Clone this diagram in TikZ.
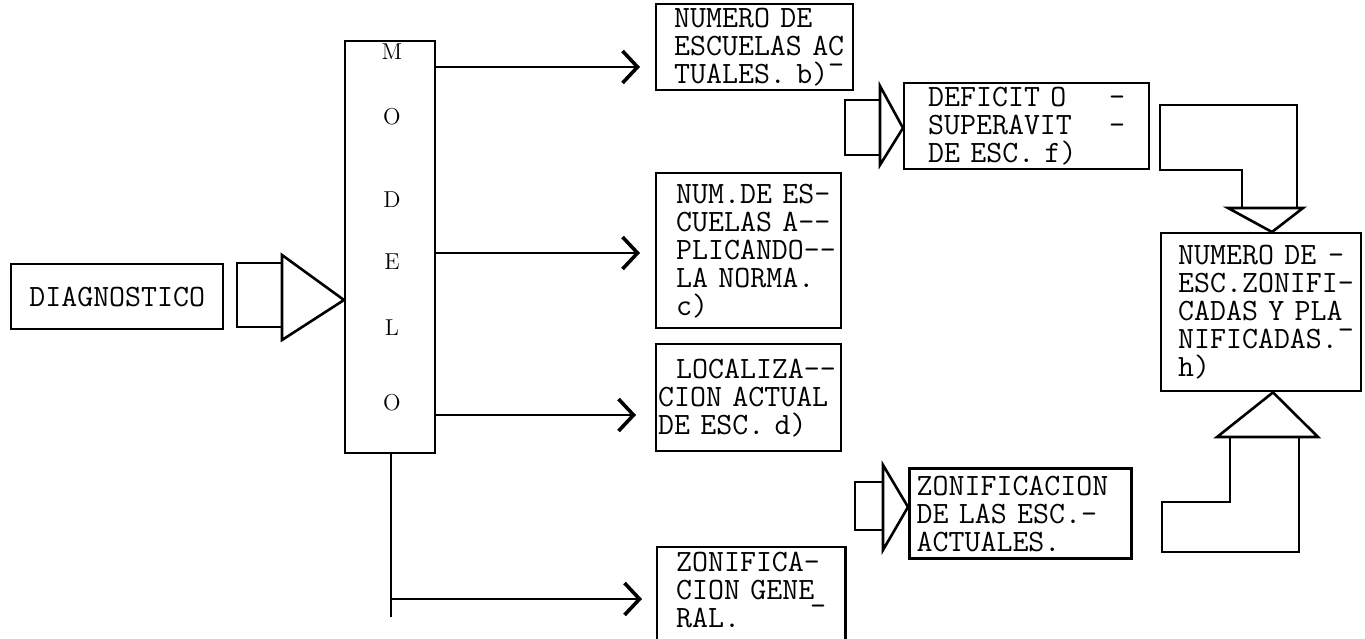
\documentclass[tikz,border=0pt]{standalone}
\usepackage{tikz}
\usetikzlibrary{arrows.meta}

\newcommand{\maq}{\fontsize{15.5}{14}\selectfont\ttfamily}

\begin{document}
\begin{tikzpicture}[x=0.5pt, y=-0.5pt, % one unit = one pixel of the scan, y down
    caja/.style={draw, line width=1.2pt, anchor=north west, align=left, font=\maq, inner ysep=2pt},
    letra/.style={font=\fontsize{11.5}{13}\selectfont\rmfamily, inner sep=0pt},
    linea/.style={line width=1.2pt},
    flecha/.style={line width=1.2pt, -{Straight Barb[length=7.5pt, width=16pt, line width=1.8pt]}},
    bloque/.style={line width=1.3pt, line join=miter}]
            % 1. Page frame
            \useasboundingbox (0,0) rectangle (1365,638);

            % 2. Input box and the model column
            \node[caja, minimum width=106pt, minimum height=32.5pt, align=center] (diag) at (10,263) {DIAGNOSTICO};
            \node[draw, line width=1.2pt, anchor=north west, minimum width=45pt, minimum height=206pt] (modelo) at (344,40) {};
            \foreach \l/\y [count=\i] in {M/52, O/117, D/200, E/262, L/328, O/403}
                \node[letra] (l\i) at (392,\y) {\l};

            % 3. Result boxes
            \node[caja, inner xsep=9pt, text width=80.5pt, minimum height=40pt] (numb) at (655,3)
                {NUMERO~DE\\ESCUELAS~AC\\TUALES.~b)\nobreak\hfill\raisebox{0.7ex}{-}};
            \node[caja, inner xsep=12pt, text width=98.5pt, minimum height=38pt] (defi) at (903,82)
                {DEFICIT~O\hfill-\\SUPERAVIT\hfill-\\DE~ESC.~f)};
            \node[caja, inner xsep=10pt, text width=72.5pt, minimum height=77.5pt] (numc) at (655,172)
                {NUM.DE~ES-\\CUELAS~A--\\PLICANDO--\\LA~NORMA.\\c)};
            \node[caja, inner xsep=1pt, text width=90.5pt, minimum height=53.5pt] (numd) at (655,343)
                {\hspace*{9pt}LOCALIZA--\\CION~ACTUAL\\DE~ESC.~d)};
            \node[caja, draw=none, inner xsep=9pt, text width=75pt] (zong) at (657,547)
                {ZONIFICA-\\CION~GENE\\RAL.\nobreak\hfill\raisebox{0.9ex}{-}};
            \draw[line width=1.2pt] (zong.north west) rectangle (zong.north east |- 0,660);
            \node[caja, line width=1.7pt, inner xsep=3.5pt, text width=104pt, minimum height=45pt] (zonac) at (908,467)
                {ZONIFICACION\\DE~LAS~ESC.-\\ACTUALES.};
            \node[caja, inner xsep=8.5pt, text width=83pt, minimum height=79pt] (numh) at (1160,232)
                {NUMERO~DE\hfill-\\ESC.ZONIFI-\\CADAS~Y~PLA\\NIFICADAS.\nobreak\hfill\raisebox{0.7ex}{-}\\h)};

            % 4. Arrows out of the model
            \coordinate (p1) at (640,67);
            \coordinate (p2) at (640,253);
            \coordinate (p3) at (636,415);
            \coordinate (p4) at (642,599);
            \coordinate (c5) at (391,617);
            \draw[flecha] (modelo.east |- p1) -- (p1);
            \draw[flecha] (modelo.east |- p2) -- (p2);
            \draw[flecha] (modelo.east |- p3) -- (p3);
            \draw[linea] (modelo.south -| c5) -- (c5);
            \draw[flecha] (c5 |- p4) -- (p4);

            % 5. Block arrows
            \draw[bloque] (237,263) rectangle (282,327);
            \draw[bloque] (282,255) -- (modelo.west |- 0,300) -- (282,340) -- cycle;
            \draw[bloque] (845,100) rectangle (880,155);
            \draw[bloque] (880,86) -- (defi.west |- 0,128) -- (880,165) -- cycle;
            \draw[bloque] (855,482) rectangle (883,530);
            \draw[bloque] (883,465) -- (zonac.west |- 0,507) -- (883,550) -- cycle;

            % 6. Bent arrows into the final box
            \draw[bloque] (1242,208) -- (1242,170) -- (1160,170) -- (1160,105) -- (1297,105) -- (1297,208);
            \draw[bloque] (1228,208) -- (1303,208) -- (numh.north -| 1272,0) -- cycle;
            \draw[bloque] (1230,437) -- (1230,502) -- (1162,502) -- (1162,552) -- (1299,552) -- (1299,437);
            \draw[bloque] (1217,437) -- (1318,437) -- (numh.south -| 1273,0) -- cycle;
        \end{tikzpicture}
\end{document}
